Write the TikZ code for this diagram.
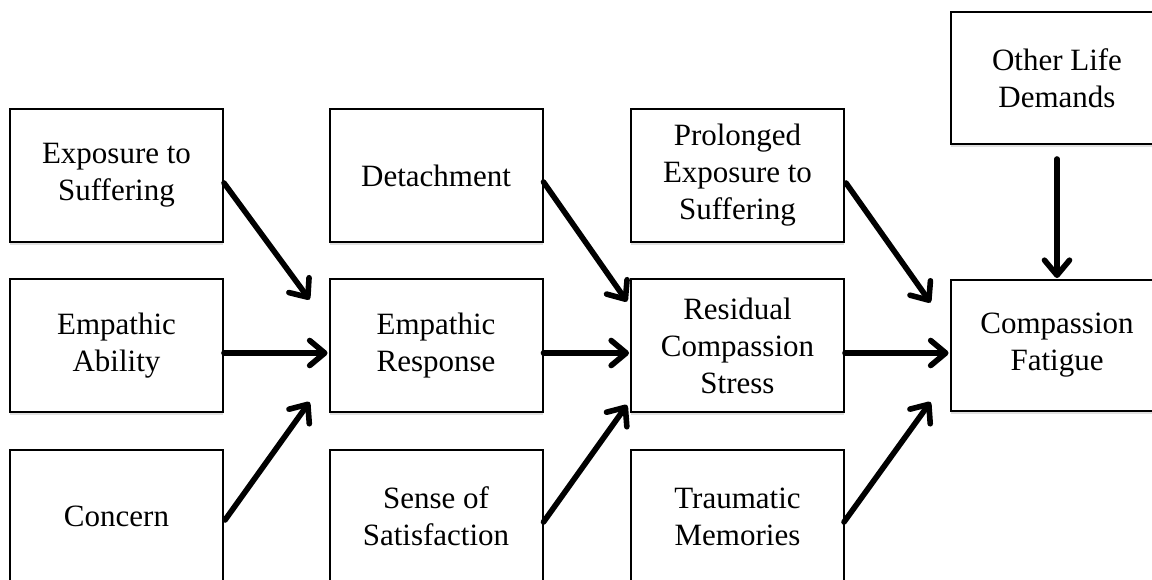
\documentclass[tikz,border=0pt]{standalone}
\usepackage{fontspec}
\setmainfont{Liberation Serif}
\usetikzlibrary{arrows.meta,calc,shadows}

\tikzset{
  box/.style={draw, line width=2pt, fill=white, minimum width=213pt,
    minimum height=133pt, inner sep=0pt, align=center,
    font=\fontsize{31}{37}\selectfont,
    drop shadow={shadow xshift=0pt, shadow yshift=-3pt, fill=black!12, opacity=1}},
  arr/.style={line width=5.6pt, line cap=round,
    -{Straight Barb[length=15pt,width=25pt,round]},
    preaction={draw=black!14, transform canvas={shift={(1.5pt,-2.5pt)}}}}
}

\begin{document}
\begin{tikzpicture}[x=1pt,y=-1pt]
  \useasboundingbox (0,0) rectangle (1152,579);
  \clip (0,0) rectangle (1152,579);

  % first column
  \node[box] (exp)  at (116.5,175.5) {Exposure to\\Suffering};
  \node[box] (abil) at (116.5,345.5) {Empathic\\Ability};
  \node[box] (conc) at (116.5,516.5) {Concern};

  % second column
  \node[box] (det)  at (436,175.5) {Detachment};
  \node[box] (resp) at (436,345.5) {Empathic\\Response};
  \node[box] (sat)  at (436,516.5) {Sense of\\Satisfaction};

  % third column
  \node[box] (prol) at (737.5,175.5) {Prolonged\\Exposure to\\Suffering};
  \node[box] (res)  at (737.5,345.5) {Residual\\Compassion\\Stress};
  \node[box] (trau) at (737.5,516.5) {Traumatic\\Memories};

  % fourth column
  \node[box, minimum height=132pt] (oth) at (1057,78) {Other Life\\Demands};
  \node[box, minimum height=131pt] (fat) at (1057,345.5) {Compassion\\Fatigue};

  % connectors into Empathic Response
  \draw[arr] ($(exp.east)+(0,7.5)$)  -- ($(resp.west)+(-19,-46)$);
  \draw[arr] ($(abil.east)+(0,7.5)$) -- ($(resp.west)+(-1,7.5)$);
  \draw[arr] ($(conc.east)+(1,3.5)$) -- ($(resp.west)+(-19,56.5)$);

  % connectors into Residual Compassion Stress
  \draw[arr] ($(det.east)+(0,6.5)$)  -- ($(res.west)+(-3,-44)$);
  \draw[arr] ($(resp.east)+(0,7.5)$) -- ($(res.west)+(-1,7.5)$);
  \draw[arr] ($(sat.east)+(0,5.5)$)  -- ($(res.west)+(-3,59.5)$);

  % connectors into Compassion Fatigue
  \draw[arr] ($(prol.east)+(1,7.5)$) -- ($(fat.west)+(-19,-43)$);
  \draw[arr] ($(res.east)+(0,7.5)$)  -- ($(fat.west)+(-1,7.5)$);
  \draw[arr] ($(trau.east)+(-1,5.5)$) -- ($(fat.west)+(-19,56.5)$);
  \draw[arr] ($(oth.south)+(0,14)$)  -- ($(fat.north)+(0,-1)$);
\end{tikzpicture}
\end{document}
